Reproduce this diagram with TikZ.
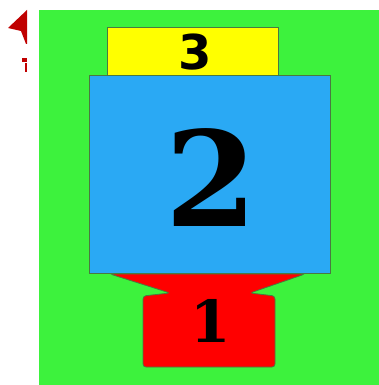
\documentclass[tikz,border=0pt]{standalone}
\usepackage{fontspec}
\newfontfamily\numfont{DejaVu Serif}
\newfontfamily\numsans{DejaVu Sans}
\definecolor{bggreen}{HTML}{3DF23D}
\definecolor{bblue}{HTML}{2AA9F4}
\definecolor{byellow}{HTML}{FFFF00}
\definecolor{bred}{HTML}{FF0000}
\definecolor{dred}{HTML}{C00000}
\definecolor{edge}{HTML}{4A7A40}
\tikzset{
  block/.style={draw=edge, line width=0.8pt},
  num/.style={text=black, inner sep=0pt}
}
\begin{document}
\begin{tikzpicture}[x=1pt,y=-1pt]
\useasboundingbox (0,0) rectangle (379,385);
\fill[white] (0,0) rectangle (379,385);
\fill[bggreen] (39,10) rectangle (379,385);
% partial red marks at top left
\fill[dred] (27,10) -- (8,28) -- (21,31) -- (26,44) -- (27,44) -- cycle;
\fill[dred] (22,58) rectangle (27,62);
\fill[dred] (25,63) rectangle (27,72);
% block 3
\node[block, fill=byellow, minimum width=171, minimum height=48, anchor=north west, inner sep=0pt] (b3) at (107,27) {};
% block 1
\filldraw[block, fill=bred, rounded corners=3pt] (110,274) -- (305,274) -- (250,293) -- (275,296) -- (275,367) -- (143,367) -- (143,296) -- (170,293) -- cycle;
\node[inner sep=0pt] (b1) at (209,330) {};
% block 2
\node[block, fill=bblue, minimum width=241, minimum height=198, anchor=north west, inner sep=0pt] (b2) at (89,75) {};
\node[num, font=\numsans\bfseries\fontsize{48}{48}\selectfont] (t3) at (195,52) {3};
\node[num, font=\numfont\bfseries\fontsize{132}{132}\selectfont] (t2) at (211,178) {2};
\node[num, font=\numfont\bfseries\fontsize{58}{58}\selectfont] (t1) at (211,321) {1};
\end{tikzpicture}
\end{document}
